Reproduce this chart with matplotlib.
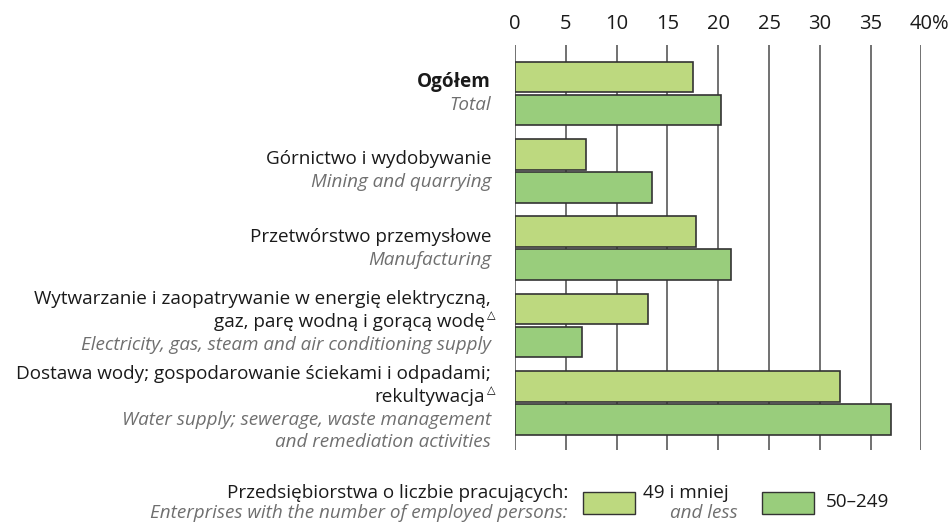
import matplotlib
matplotlib.use("Agg")
import matplotlib.pyplot as plt
from matplotlib.patches import Rectangle
from matplotlib.transforms import ScaledTranslation

# ------------------------------------------------------------------
# Data
# ------------------------------------------------------------------
labels_pl = [
    ["Ogółem"],
    ["Górnictwo i wydobywanie"],
    ["Przetwórstwo przemysłowe"],
    ["Wytwarzanie i zaopatrywanie w energię elektryczną,",
     "gaz, parę wodną i gorącą wodę"],
    ["Dostawa wody; gospodarowanie ściekami i odpadami;",
     "rekultywacja"],
]
labels_en = [
    ["Total"],
    ["Mining and quarrying"],
    ["Manufacturing"],
    ["Electricity, gas, steam and air conditioning supply"],
    ["Water supply; sewerage, waste management",
     "and remediation activities"],
]
flagged = [False, False, False, True, True]

small_49 = [17.5, 7.0, 17.8, 13.1, 32.0]
medium_50_249 = [20.3, 13.5, 21.3, 6.6, 37.0]

ticks = [0, 5, 10, 15, 20, 25, 30, 35, 40]
tick_labels = ["0", "5", "10", "15", "20", "25", "30", "35", "40%"]

legend_title_pl = "Przedsiębiorstwa o liczbie pracujących:"
legend_title_en = "Enterprises with the number of employed persons:"
legend_small_pl = "49 i mniej"
legend_small_en = "and less"
legend_medium = "50–249"

# ------------------------------------------------------------------
# Style
# ------------------------------------------------------------------
LIGHT = "#bdd97f"
DARK = "#99cd7c"
EDGE = "#333333"
GRAY_TXT = "#6f6f6f"
FS = 13.6

plt.rcParams["font.family"] = ["Open Sans", "DejaVu Sans"]

W, H = 952, 522
fig = plt.figure(figsize=(W / 100, H / 100), dpi=100)

ax_left, ax_right = 515, 921.5
ax_top, ax_bottom = 45, 450
ax = fig.add_axes([ax_left / W, 1 - ax_bottom / H,
                   (ax_right - ax_left) / W, (ax_bottom - ax_top) / H])

n = len(small_49)
pitch = 77.35
ax.set_xlim(0, 40)
ax.set_ylim((ax_bottom - 93.5) / pitch, -(93.5 - ax_top) / pitch)

bar_h = 0.394
off = 0.213
ys = list(range(n))
ax.barh([y - off for y in ys], small_49, height=bar_h, color=LIGHT,
        edgecolor=EDGE, linewidth=1.2, zorder=3)
ax.barh([y + off for y in ys], medium_50_249, height=bar_h, color=DARK,
        edgecolor=EDGE, linewidth=1.2, zorder=3)

for t in ticks:
    ax.axvline(t, color="#666666", linewidth=1.3, zorder=1)

for s in ax.spines.values():
    s.set_visible(False)
ax.set_yticks([])
ax.xaxis.tick_top()
ax.set_xticks(ticks)
ax.set_xticklabels(tick_labels, fontsize=14.5, color="#1a1a1a")
ax.tick_params(axis="x", length=0, pad=8)

# keep "40" centred on its tick, with the % sign hanging to the right
last = ax.get_xticklabels()[-1]
last.set_horizontalalignment("left")
last.set_transform(last.get_transform()
                   + ScaledTranslation(-11.5 / 100, 0, fig.dpi_scale_trans))

# ------------------------------------------------------------------
# Category labels
# ------------------------------------------------------------------
line_px = 22.7
text_x = 491
nudge = {3: -3.5, 4: 5.5}   # small shifts for 3- and 4-line labels
for i in range(n):
    lines = [(t, "pl") for t in labels_pl[i]] + [(t, "en") for t in labels_en[i]]
    center_px = ax_top + (i - ax.get_ylim()[1]) * pitch
    start = center_px - (len(lines) - 1) / 2 * line_px + nudge.get(len(lines), 0)
    for k, (txt, lang) in enumerate(lines):
        ypx = start + k * line_px
        is_last_pl = lang == "pl" and k == len(labels_pl[i]) - 1
        x = text_x
        if flagged[i] and is_last_pl:
            x = text_x - 6
            fig.text((x + 2) / W, 1 - (ypx - 7) / H, "△", fontsize=8,
                     family="DejaVu Sans", ha="left", va="center")
        if lang == "pl":
            fig.text(x / W, 1 - ypx / H, txt, fontsize=FS, ha="right",
                     va="center", color="#1a1a1a",
                     fontweight="bold" if i == 0 else "normal")
        else:
            fig.text(x / W, 1 - ypx / H, txt, fontsize=FS, ha="right",
                     va="center", color=GRAY_TXT, style="italic")

# ------------------------------------------------------------------
# Legend
# ------------------------------------------------------------------
fig.text(568 / W, 1 - 493 / H, legend_title_pl, fontsize=FS, ha="right",
         va="center", color="#1a1a1a")
fig.text(568 / W, 1 - 513 / H, legend_title_en, fontsize=FS, ha="right",
         va="center", color=GRAY_TXT, style="italic")

for x0, col in [(583, LIGHT), (762, DARK)]:
    fig.patches.append(Rectangle((x0 / W, 1 - 514 / H), 52 / W, 22 / H,
                                 transform=fig.transFigure, facecolor=col,
                                 edgecolor=EDGE, linewidth=1.0))

fig.text(643 / W, 1 - 493 / H, legend_small_pl, fontsize=FS, ha="left",
         va="center", color="#1a1a1a")
fig.text(738 / W, 1 - 513 / H, legend_small_en, fontsize=FS, ha="right",
         va="center", color=GRAY_TXT, style="italic")
fig.text(826 / W, 1 - 502 / H, legend_medium, fontsize=FS, ha="left",
         va="center", color="#1a1a1a")

fig.savefig("out.png", dpi=100)
